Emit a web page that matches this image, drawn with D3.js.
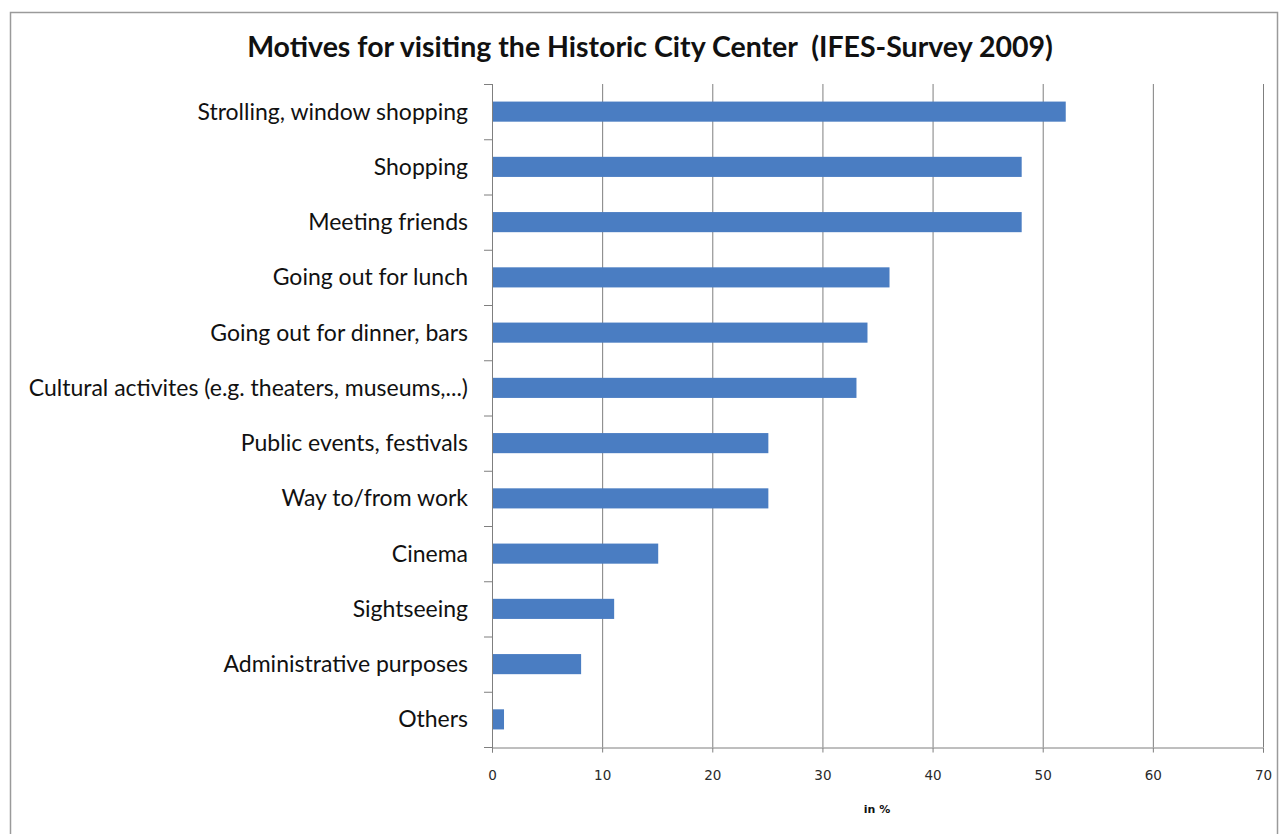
<!DOCTYPE html>
<html>
<head>
<meta charset="utf-8">
<script src="https://cdn.jsdelivr.net/npm/d3@7"></script>
<style>
  body { margin: 0; background: #fff; }
  svg { display: block; }
</style>
</head>
<body>
<script>
const categories = [
  'Strolling, window shopping',
  'Shopping',
  'Meeting friends',
  'Going out for lunch',
  'Going out for dinner, bars',
  'Cultural activites (e.g. theaters, museums,...)',
  'Public events, festivals',
  'Way to/from work',
  'Cinema',
  'Sightseeing',
  'Administrative purposes',
  'Others'
];
const values = [52, 48, 48, 36, 34, 33, 25, 25, 15, 11, 8, 1];
const xTicks = [0, 10, 20, 30, 40, 50, 60, 70];

const width = 1280;
const height = 834;
const margin = {top: 84, right: 17, bottom: 87, left: 492};

const svg = d3.select('body')
  .append('svg')
  .attr('width', width)
  .attr('height', height);

// outer frame
svg.append('rect')
  .attr('x', 10.5).attr('y', 12.5)
  .attr('width', 1267).attr('height', 830)
  .attr('fill', '#fff')
  .attr('stroke', '#9a9a9a')
  .attr('stroke-width', 1.5);

const x = d3.scaleLinear()
  .domain([0, 70])
  .range([margin.left, width - margin.right]);

const y = d3.scaleBand()
  .domain(categories)
  .range([margin.top, height - margin.bottom])
  .paddingInner(0.636)
  .paddingOuter(0.318);

const yOuter = d3.scaleBand()
  .domain(categories)
  .range([margin.top, height - margin.bottom]);

// gridlines
svg.append('g')
  .selectAll('line')
  .data(xTicks.slice(1))
  .enter()
  .append('line')
  .attr('x1', d => x(d) + 0.5)
  .attr('x2', d => x(d) + 0.5)
  .attr('y1', margin.top)
  .attr('y2', height - margin.bottom)
  .attr('stroke', '#7f7f7f')
  .attr('stroke-width', 1);

// bars
svg.append('g')
  .selectAll('rect')
  .data(values)
  .enter()
  .append('rect')
  .attr('x', x(0) + 1)
  .attr('y', (d, i) => y(categories[i]))
  .attr('width', d => x(d) - x(0))
  .attr('height', y.bandwidth())
  .attr('fill', '#4a7dc2');

// x axis
const xAxis = svg.append('g')
  .attr('transform', `translate(0, ${height - margin.bottom + 0.5})`)
  .call(d3.axisBottom(x).tickValues(xTicks).tickSize(5).tickPadding(18));
xAxis.select('.domain').attr('stroke', '#7f7f7f');
xAxis.selectAll('.tick line').attr('stroke', '#7f7f7f');
xAxis.selectAll('.tick text')
  .attr('font-family', 'DejaVu Sans, Verdana, sans-serif')
  .attr('font-size', 13.5)
  .attr('fill', '#2a2a2a');

// y axis line and boundary ticks
svg.append('line')
  .attr('x1', x(0) + 0.5).attr('x2', x(0) + 0.5)
  .attr('y1', margin.top).attr('y2', height - margin.bottom + 5)
  .attr('stroke', '#7f7f7f');

const bounds = categories.map(c => yOuter(c)).concat([height - margin.bottom]);
svg.append('g')
  .selectAll('line')
  .data(bounds)
  .enter()
  .append('line')
  .attr('x1', x(0) - 8).attr('x2', x(0))
  .attr('y1', d => d + 0.5).attr('y2', d => d + 0.5)
  .attr('stroke', '#7f7f7f');

// category labels
svg.append('g')
  .selectAll('text')
  .data(categories)
  .enter()
  .append('text')
  .attr('x', 468)
  .attr('y', d => yOuter(d) + yOuter.bandwidth() / 2)
  .attr('dy', '0.35em')
  .attr('text-anchor', 'end')
  .attr('font-family', 'Lato, "Open Sans", sans-serif')
  .attr('font-size', 23)
  .attr('fill', '#111')
  .text(d => d);

// title
svg.append('text')
  .attr('x', 650)
  .attr('y', 57)
  .attr('text-anchor', 'middle')
  .attr('font-family', 'Lato, "Open Sans", sans-serif')
  .attr('font-weight', 'bold')
  .attr('font-size', 28.5)
  .attr('fill', '#111')
  .attr('xml:space', 'preserve')
  .text('Motives for visiting the Historic City Center  (IFES-Survey 2009)');

// x axis title
svg.append('text')
  .attr('x', 877)
  .attr('y', 813)
  .attr('text-anchor', 'middle')
  .attr('font-family', 'DejaVu Sans, Verdana, sans-serif')
  .attr('font-weight', 'bold')
  .attr('font-size', 11)
  .attr('fill', '#111')
  .text('in %');
</script>
</body>
</html>
